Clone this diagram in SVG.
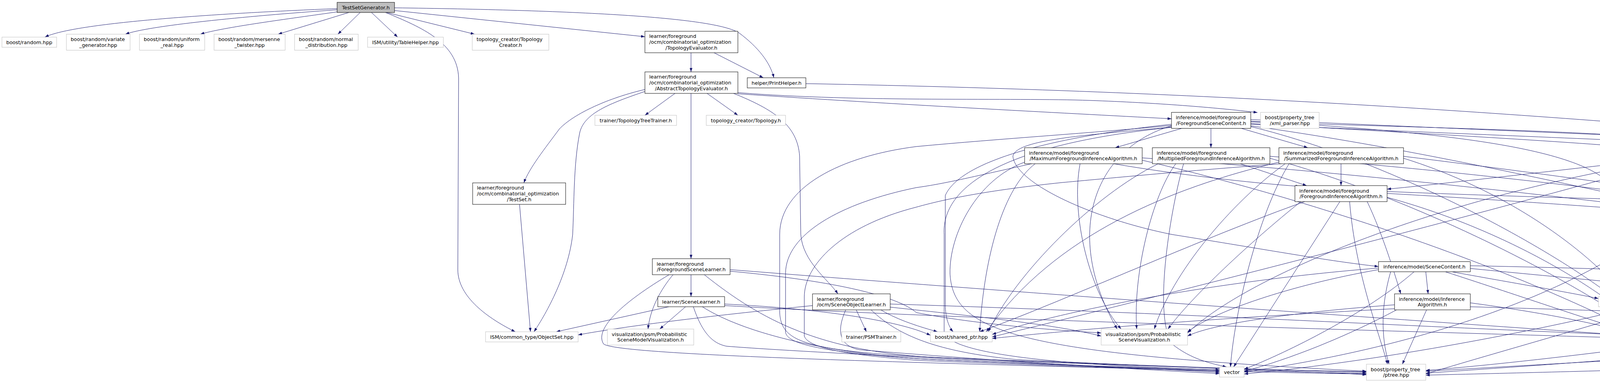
<svg xmlns="http://www.w3.org/2000/svg" width="7037" height="975" viewBox="0 0 7037 975">
<style>
.e{fill:none;stroke:#191970;stroke-width:1;marker-end:url(#a)}
.nb rect{fill:#fff;stroke:#000;stroke-width:1}
.ng rect{fill:#fff;stroke:#bfbfbf;stroke-width:1}
.nr rect{fill:#fff;stroke:#ff0000;stroke-width:1}
.root rect{fill:#bfbfbf;stroke:#000;stroke-width:1}
text{font-family:"DejaVu Sans","Liberation Sans",sans-serif;font-size:12.8px;fill:#000}
.c{text-anchor:middle}
</style>
<defs>
<marker id="a" markerUnits="userSpaceOnUse" markerWidth="10" markerHeight="7" refX="10" refY="3.5" orient="auto">
<path d="M0,0 L10,3.5 L0,7 z" fill="#191970"/>
</marker>
</defs>
<rect x="0" y="0" width="7037" height="975" fill="#fff"/>
<g id="edges">
<path class="e" d="M863,22 C560,34 190,58 115,95"/>
<path class="e" d="M863,25 C620,42 380,66 321,87.5"/>
<path class="e" d="M866,30 C740,48 570,70 513,87.5"/>
<path class="e" d="M893,32 L712,87.5"/>
<path class="e" d="M922,32 L865,87.5"/>
<path class="e" d="M951,32 L1018,95"/>
<path class="e" d="M990,32 L1215,87.5"/>
<path class="e" d="M1010,27 L1651,94"/>
<path class="e" d="M1010,20 C1450,26 1830,42 1893,85 C1940,120 1972,160 1981,199"/>
<path class="e" d="M987,32 C1080,70 1172,110 1174,200 L1172,690 C1172,760 1250,815 1319,849"/>
<path class="e" d="M1769,135 L1769,184"/>
<path class="e" d="M1828,135 L1954,199"/>
<path class="e" d="M1728,239 L1651,295"/>
<path class="e" d="M1810,239 L1889,295"/>
<path class="e" d="M1769,239 L1769,662"/>
<path class="e" d="M1651,229 C1560,250 1470,290 1432,330 C1395,380 1355,430 1341,468"/>
<path class="e" d="M1651,234 C1560,265 1495,290 1484,340 C1468,420 1470,520 1466,600 C1455,700 1400,800 1367,849"/>
<path class="e" d="M1878,239 C1980,280 2042,320 2047,400 L2050,600 C2055,670 2120,715 2145,752"/>
<path class="e" d="M1889,237 C2200,262 2600,250 2790,257 C2960,263 3110,275 3219,288"/>
<path class="e" d="M1889,240 C2300,268 2700,288 2999,304"/>
<path class="e" d="M2063,214 C3200,235 4000,300 4700,358 C5400,410 6300,470 6840,465 C7000,470 7030,560 7030,700 L7030,800 C7030,880 6900,915 6806,939"/>
<path class="e" d="M1330,523 L1358,849"/>
<path class="e" d="M1769,703 L1769,759"/>
<path class="e" d="M1723,703 C1692,740 1664,790 1659,842"/>
<path class="e" d="M1713,703 C1600,770 1520,840 1545,880 C1580,915 2700,935 3122,950"/>
<path class="e" d="M1803,703 C1950,820 2100,900 2400,915 C2900,935 3300,948 3498,953"/>
<path class="e" d="M1869,690 C2500,740 3600,820 4197,860"/>
<path class="e" d="M1869,694 C2150,720 2300,760 2346,800 C2500,830 2700,845 2819,852"/>
<path class="e" d="M1712,785 L1424,849"/>
<path class="e" d="M1755,785 L1689,842"/>
<path class="e" d="M1775,785 C1800,860 1830,880 1860,886 C2100,905 2800,935 3122,953"/>
<path class="e" d="M1798,785 C1900,850 2100,900 2346,918 C2800,940 3300,951 3498,956"/>
<path class="e" d="M1855,778 C2100,790 2300,820 2382,858"/>
<path class="e" d="M1855,782 C2500,820 3700,850 4197,866"/>
<path class="e" d="M2080,782 C1800,810 1600,835 1480,857"/>
<path class="e" d="M2192,793 L2218,849"/>
<path class="e" d="M2165,793 C2140,850 2150,885 2200,895 C2500,920 2900,945 3122,956"/>
<path class="e" d="M2255,793 C2300,820 2360,838 2400,849"/>
<path class="e" d="M2279,778 C3000,800 3800,845 4197,858"/>
<path class="e" d="M2279,786 C2500,810 2700,830 2819,860"/>
<path class="e" d="M2230,793 C2300,860 2400,900 2600,920 C3000,940 3400,952 3498,959"/>
<path class="e" d="M3027,328 L2855,378"/>
<path class="e" d="M3100,328 L3100,378"/>
<path class="e" d="M3176,328 L3348,378"/>
<path class="e" d="M3202,316 C3600,340 4000,360 4264,384"/>
<path class="e" d="M3202,322 C3900,420 4400,585 4717,585"/>
<path class="e" d="M2999,325 C2800,345 2600,355 2593,400 C2600,470 2800,560 3000,600 C3250,640 3400,668 3529,682"/>
<path class="e" d="M2999,318 C2700,350 2460,410 2420,500 L2420,780 C2420,815 2430,838 2440,849"/>
<path class="e" d="M2999,322 C2800,380 2720,600 2860,842"/>
<path class="e" d="M2999,326 C2560,370 2410,480 2417,600 L2417,850 C2430,905 2700,935 3122,946"/>
<path class="e" d="M2999,321 C2800,340 2560,355 2346,375 C2150,400 1996,480 1996,600 L1996,800 C2000,870 2050,895 2346,912 C2800,935 3300,948 3498,951"/>
<path class="e" d="M3202,324 C3600,420 4100,700 4230,849"/>
<path class="e" d="M3202,312 C3900,335 4500,340 4570,420 L4580,700 C4585,730 4588,745 4590,759"/>
<path class="e" d="M3202,310 C3700,338 4100,380 4140,500 C4160,600 4150,700 4140,759"/>
<path class="e" d="M3202,306 C4200,350 5200,390 6000,420 C6600,440 6950,480 6980,600 L6980,820 C6975,880 6870,915 6790,939"/>
<path class="e" d="M3202,318 C4500,380 6300,420 6531,600 L6531,800 C6520,900 6200,935 6031,950"/>
<path class="e" d="M2851,419 C3000,445 3200,468 3327,477"/>
<path class="e" d="M2924,404 C3600,450 4300,540 4717,592"/>
<path class="e" d="M2650,419 C2570,480 2520,650 2508,849"/>
<path class="e" d="M2765,419 C2740,550 2790,750 2870,842"/>
<path class="e" d="M2641,419 C2500,450 2420,470 2346,480 C2150,520 2011,600 2011,700 L2011,850 C2015,880 2100,900 2346,918 C2700,935 3000,945 3122,949"/>
<path class="e" d="M2924,410 C3400,520 3900,700 4197,855"/>
<path class="e" d="M2623,415 C2500,460 2430,600 2432,700 C2440,850 2600,905 3498,950"/>
<path class="e" d="M3175,419 L3345,475"/>
<path class="e" d="M3010,419 C2950,500 2900,700 2910,842"/>
<path class="e" d="M3030,419 C3000,520 2950,800 3000,880 C3050,920 3100,930 3140,939"/>
<path class="e" d="M2965,419 C2800,500 2600,700 2530,849"/>
<path class="e" d="M3251,405 C3600,500 4000,700 4210,849"/>
<path class="e" d="M3251,400 C3800,440 4400,520 4760,572"/>
<path class="e" d="M3433,419 L3433,475"/>
<path class="e" d="M3290,419 C3150,520 3000,700 2955,842"/>
<path class="e" d="M3300,419 C3220,550 3160,800 3150,939"/>
<path class="e" d="M3274,415 C3000,480 2700,600 2525,849"/>
<path class="e" d="M3280,419 C3000,440 2800,460 2720,467 C2500,490 2400,515 2346,530 C2150,580 2059,680 2059,760 L2059,860 C2070,895 2200,910 2346,922 C2900,945 3300,955 3498,957"/>
<path class="e" d="M3593,405 C3900,500 4150,700 4222,849"/>
<path class="e" d="M3593,400 C4000,450 4500,520 4780,572"/>
<path class="e" d="M4264,405 C3950,440 3700,470 3551,484"/>
<path class="e" d="M4264,410 C3700,500 3200,700 3040,852"/>
<path class="e" d="M4400,419 C4300,600 3900,850 3185,952"/>
<path class="e" d="M4405,419 C4350,600 4260,780 4240,849"/>
<path class="e" d="M4561,410 C4700,460 4790,500 4803,572"/>
<path class="e" d="M4264,415 C3600,600 2800,800 2540,862"/>
<path class="e" d="M4561,395 C5300,440 6400,500 6850,560 C6920,590 6930,640 6930,700 L6930,820 C6920,880 6850,915 6776,939"/>
<path class="e" d="M3500,516 C3540,600 3570,700 3586,752"/>
<path class="e" d="M3551,495 C4000,520 4500,560 4717,580"/>
<path class="e" d="M3340,516 C3100,600 2700,780 2508,849"/>
<path class="e" d="M3430,516 L3158,939"/>
<path class="e" d="M3551,505 C3900,600 4150,780 4212,849"/>
<path class="e" d="M3330,516 C3200,620 3050,760 2990,842"/>
<path class="e" d="M3455,516 C3470,700 3530,850 3552,932"/>
<path class="e" d="M3551,490 C4500,530 6100,540 6700,600 C6850,620 6878,700 6878,760 L6878,840 C6870,890 6820,920 6760,939"/>
<path class="e" d="M3650,695.5 L3656,752"/>
<path class="e" d="M3717,695.5 C3850,720 4000,745 4092,764"/>
<path class="e" d="M3764,687 C4100,720 4400,745 4551,768"/>
<path class="e" d="M3700,695.5 C3900,760 4100,830 4197,856"/>
<path class="e" d="M3560,695.5 C3530,800 3540,880 3556,932"/>
<path class="e" d="M3620,695.5 C3500,800 3300,900 3185,945"/>
<path class="e" d="M3529,686 C3100,720 2700,800 2540,856"/>
<path class="e" d="M3529,690 C3300,730 3100,800 3040,850"/>
<path class="e" d="M3764,680 C4800,700 6200,780 6700,939"/>
<path class="e" d="M3652,793 L3590,932"/>
<path class="e" d="M3764,775 C3950,800 4100,830 4197,859"/>
<path class="e" d="M3575,793 C3450,860 3300,920 3185,950"/>
<path class="e" d="M3570,780 C3300,800 3100,830 3040,860"/>
<path class="e" d="M3570,790 C3000,820 2700,850 2540,866"/>
<path class="e" d="M3764,785 C5000,820 6200,880 6594,952"/>
<path class="e" d="M4795,613 L4790,669.5"/>
<path class="e" d="M4900,613 L5095,662"/>
<path class="e" d="M4920,598 C5600,640 6100,700 6283,752"/>
<path class="e" d="M4760,613 C4600,700 4350,800 4256,858"/>
<path class="e" d="M4740,613 C4600,700 3800,900 3185,957"/>
<path class="e" d="M4725,613 C4500,720 3900,880 3650,957"/>
<path class="e" d="M4920,605 C5800,650 6500,750 6740,939"/>
<path class="e" d="M4830,613 C4850,750 4950,880 5088,952"/>
<path class="e" d="M4920,602 C5600,620 6400,560 6475,600 L6475,780 C6470,880 6200,930 6031,945"/>
<path class="e" d="M5145,703 L5063,752"/>
<path class="e" d="M5215,703 L5290,752"/>
<path class="e" d="M5295,695 C5450,720 5520,740 5540,759"/>
<path class="e" d="M5295,690 C5550,720 5700,740 5767,760"/>
<path class="e" d="M5063,695 C4900,760 4920,850 5068,862"/>
<path class="e" d="M5295,700 C5500,760 5600,800 5640,849"/>
<path class="e" d="M5100,703 C4980,800 5000,900 5092,939"/>
<path class="e" d="M5295,698 C6000,760 6500,850 6700,939"/>
<path class="e" d="M5295,692 C5700,720 6000,760 6060,849"/>
<path class="e" d="M5295,703 C5500,800 5700,880 5830,932"/>
<path class="e" d="M5295,685 C5700,700 6000,730 6184,762"/>
<path class="e" d="M5030,793 L5105,842"/>
<path class="e" d="M5025,793 C5030,880 5080,920 5120,939"/>
<path class="e" d="M5149,782 C5350,800 5500,830 5599,858"/>
<path class="e" d="M5149,790 C5500,830 5800,850 5994,860"/>
<path class="e" d="M5120,793 C5300,880 6000,930 6594,950"/>
<path class="e" d="M5095,793 C5300,880 5600,920 5780,945"/>
<path class="e" d="M4902,780 C4600,800 4400,830 4256,860"/>
<path class="e" d="M4902,790 C4500,850 4000,920 3650,948"/>
<path class="e" d="M5275,793 L5205,842"/>
<path class="e" d="M5305,793 C5290,870 5250,920 5230,939"/>
<path class="e" d="M5390,793 C5500,820 5580,840 5620,849"/>
<path class="e" d="M5440,793 C5600,880 6200,930 6594,955"/>
<path class="e" d="M5410,793 C5550,870 5700,920 5780,938"/>
<path class="e" d="M5172,790 C4800,820 4500,845 4256,866"/>
<path class="e" d="M5250,793 C4800,880 4000,930 3650,955"/>
<path class="e" d="M5492,785 C5750,810 5900,840 5994,856"/>
<path class="e" d="M5767,780 C5500,800 5350,830 5270,850"/>
<path class="e" d="M5838,793 L5720,849"/>
<path class="e" d="M5910,793 L6045,849"/>
<path class="e" d="M5790,793 C5600,880 5400,920 5251,950"/>
<path class="e" d="M5847,793 L5840,932"/>
<path class="e" d="M5870,793 C5900,880 6300,930 6594,947"/>
<path class="e" d="M5767,788 C5200,820 4600,850 4256,870"/>
<path class="e" d="M5170,883 L5170,939"/>
<path class="e" d="M5270,868 C5800,900 6300,930 6594,945"/>
<path class="e" d="M5270,876 C5500,900 5700,920 5780,942"/>
<path class="e" d="M5068,875 C4500,900 4000,930 3650,950"/>
<path class="e" d="M6235,793 L6095,849"/>
<path class="e" d="M6335,793 L6675,939"/>
<path class="e" d="M6250,793 C6200,870 6100,920 6031,940"/>
<path class="e" d="M6265,793 C6240,880 5800,910 5251,955"/>
<path class="e" d="M6184,780 C5500,800 4800,830 4256,862"/>
<path class="e" d="M6275,793 C6000,900 4500,940 3650,960"/>
</g>
<g id="n1" class="root"><rect x="863" y="6" width="147" height="26"/><text class="c" x="936.5" y="23.5">TestSetGenerator.h</text></g>
<g id="n2" class="ng"><rect x="5" y="95" width="140" height="26"/><text class="c" x="75" y="112.5">boost/random.hpp</text></g>
<g id="n3" class="ng"><rect x="170" y="87.5" width="163" height="41"/><text x="181" y="105.2">boost/random/variate</text><text class="c" x="251.5" y="119.9">_generator.hpp</text></g>
<g id="n4" class="ng"><rect x="357" y="87.5" width="167" height="41"/><text x="368" y="105.2">boost/random/uniform</text><text class="c" x="440.5" y="119.9">_real.hpp</text></g>
<g id="n5" class="ng"><rect x="548" y="87.5" width="182" height="41"/><text x="559" y="105.2">boost/random/mersenne</text><text class="c" x="639" y="119.9">_twister.hpp</text></g>
<g id="n6" class="ng"><rect x="754" y="87.5" width="163" height="41"/><text x="765" y="105.2">boost/random/normal</text><text class="c" x="835.5" y="119.9">_distribution.hpp</text></g>
<g id="n7" class="ng"><rect x="941" y="95" width="194" height="26"/><text class="c" x="1038" y="112.5">ISM/utility/TableHelper.hpp</text></g>
<g id="n8" class="ng"><rect x="1209" y="87.5" width="196" height="41"/><text x="1220" y="105.2">topology_creator/Topology</text><text class="c" x="1307" y="119.9">Creator.h</text></g>
<g id="n9" class="nb"><rect x="1651" y="80" width="238" height="55"/><text x="1662" y="97.3">learner/foreground</text><text x="1662" y="112">/ocm/combinatorial_optimization</text><text class="c" x="1770" y="126.7">/TopologyEvaluator.h</text></g>
<g id="n10" class="nb"><rect x="1651" y="184" width="238" height="55"/><text x="1662" y="201.3">learner/foreground</text><text x="1662" y="216">/ocm/combinatorial_optimization</text><text class="c" x="1770" y="230.7">/AbstractTopologyEvaluator.h</text></g>
<g id="n11" class="nb"><rect x="1913" y="199" width="150" height="26"/><text class="c" x="1988" y="216.5">helper/PrintHelper.h</text></g>
<g id="n12" class="ng"><rect x="1523" y="295" width="209" height="26"/><text class="c" x="1627.5" y="312.5">trainer/TopologyTreeTrainer.h</text></g>
<g id="n13" class="ng"><rect x="1808" y="295" width="203" height="26"/><text class="c" x="1909.5" y="312.5">topology_creator/Topology.h</text></g>
<g id="n14" class="nb"><rect x="2999" y="287.5" width="203" height="41"/><text x="3010" y="305.2">inference/model/foreground</text><text class="c" x="3100.5" y="319.9">/ForegroundSceneContent.h</text></g>
<g id="n15" class="ng"><rect x="3227" y="287.5" width="150" height="41"/><text x="3238" y="305.2">boost/property_tree</text><text class="c" x="3302" y="319.9">/xml_parser.hpp</text></g>
<g id="n16" class="nb"><rect x="2623" y="378" width="301" height="41"/><text x="2634" y="395.7">inference/model/foreground</text><text class="c" x="2773.5" y="410.4">/MaximumForegroundInferenceAlgorithm.h</text></g>
<g id="n17" class="nb"><rect x="2950" y="378" width="301" height="41"/><text x="2961" y="395.7">inference/model/foreground</text><text class="c" x="3100.5" y="410.4">/MultipliedForegroundInferenceAlgorithm.h</text></g>
<g id="n18" class="nb"><rect x="3274" y="378" width="319" height="41"/><text x="3285" y="395.7">inference/model/foreground</text><text class="c" x="3433.5" y="410.4">/SummarizedForegroundInferenceAlgorithm.h</text></g>
<g id="n19" class="nb"><rect x="4264" y="378" width="297" height="41"/><text x="4275" y="395.7">inference/model/foreground</text><text class="c" x="4412.5" y="410.4">/PowerSetForegroundInferenceAlgorithm.h</text></g>
<g id="n20" class="nb"><rect x="3315" y="475" width="236" height="41"/><text x="3326" y="492.7">inference/model/foreground</text><text class="c" x="3433" y="507.4">/ForegroundInferenceAlgorithm.h</text></g>
<g id="n21" class="nb"><rect x="1210" y="468" width="238" height="55"/><text x="1221" y="485.3">learner/foreground</text><text x="1221" y="500">/ocm/combinatorial_optimization</text><text class="c" x="1329" y="514.7">/TestSet.h</text></g>
<g id="n22" class="nb"><rect x="4717" y="572" width="203" height="41"/><text x="4728" y="589.7">inference/model/foreground</text><text class="c" x="4818.5" y="604.4">/SceneObjectDescription.h</text></g>
<g id="n23" class="nb"><rect x="1670" y="662" width="199" height="41"/><text x="1681" y="679.7">learner/foreground</text><text class="c" x="1769.5" y="694.4">/ForegroundSceneLearner.h</text></g>
<g id="n24" class="nb"><rect x="3529" y="669.5" width="235" height="26"/><text class="c" x="3646.5" y="687">inference/model/SceneContent.h</text></g>
<g id="n25" class="ng"><rect x="4752" y="669.5" width="66" height="26"/><text class="c" x="4785" y="687">chrono</text></g>
<g id="n26" class="nb"><rect x="5063" y="662" width="232" height="41"/><text x="5074" y="679.7">inference/model/foreground</text><text class="c" x="5179" y="694.4">/ocm/OcmSceneObjectContent.h</text></g>
<g id="n27" class="nb"><rect x="1684" y="759" width="171" height="26"/><text class="c" x="1769.5" y="776.5">learner/SceneLearner.h</text></g>
<g id="n28" class="nb"><rect x="2080" y="752" width="199" height="41"/><text x="2091" y="769.7">learner/foreground</text><text class="c" x="2179.5" y="784.4">/ocm/SceneObjectLearner.h</text></g>
<g id="n29" class="nb"><rect x="3570" y="752" width="194" height="41"/><text x="3581" y="769.7">inference/model/Inference</text><text class="c" x="3667" y="784.4">Algorithm.h</text></g>
<g id="n30" class="ng"><rect x="4092" y="759" width="80" height="26"/><text class="c" x="4132" y="776.5">iostream</text></g>
<g id="n31" class="ng"><rect x="4551" y="759" width="74" height="26"/><text class="c" x="4588" y="776.5">fstream</text></g>
<g id="n32" class="nr"><rect x="4902" y="752" width="247" height="41"/><text x="4913" y="769.7">inference/model/foreground</text><text class="c" x="5025.5" y="784.4">/ocm/shape/ShapeTermEvaluator.h</text></g>
<g id="n33" class="nr"><rect x="5172" y="752" width="320" height="41"/><text x="5183" y="769.7">inference/model/foreground</text><text class="c" x="5332" y="784.4">/ocm/appearance/AppearanceTermEvaluator.h</text></g>
<g id="n34" class="ng"><rect x="5515" y="759" width="76" height="26"/><text class="c" x="5553" y="776.5">sstream</text></g>
<g id="n35" class="nr"><rect x="5767" y="752" width="291" height="41"/><text x="5778" y="769.7">inference/model/foreground</text><text class="c" x="5912.5" y="784.4">/ocm/occlusion/OcclusionTermEvaluator.h</text></g>
<g id="n36" class="nb"><rect x="6184" y="752" width="202" height="41"/><text x="6195" y="769.7">inference/model/foreground</text><text class="c" x="6285" y="784.4">/SceneObjectContent.h</text></g>
<g id="n37" class="ng"><rect x="1243" y="849" width="237" height="26"/><text class="c" x="1361.5" y="866.5">ISM/common_type/ObjectSet.hpp</text></g>
<g id="n38" class="ng"><rect x="1555" y="842" width="221" height="41"/><text x="1566" y="859.7">visualization/psm/Probabilistic</text><text class="c" x="1665.5" y="874.4">SceneModelVisualization.h</text></g>
<g id="n39" class="ng"><rect x="2155" y="849" width="151" height="26"/><text class="c" x="2230.5" y="866.5">trainer/PSMTrainer.h</text></g>
<g id="n40" class="ng"><rect x="2382" y="849" width="158" height="26"/><text class="c" x="2461" y="866.5">boost/shared_ptr.hpp</text></g>
<g id="n41" class="ng"><rect x="2819" y="842" width="221" height="41"/><text x="2830" y="859.7">visualization/psm/Probabilistic</text><text class="c" x="2929.5" y="874.4">SceneVisualization.h</text></g>
<g id="n42" class="ng"><rect x="4197" y="849" width="59" height="26"/><text class="c" x="4226.5" y="866.5">string</text></g>
<g id="n43" class="nb"><rect x="5068" y="842" width="202" height="41"/><text x="5079" y="859.7">inference/model/foreground</text><text class="c" x="5169" y="874.4">/ocm/TermEvaluator.h</text></g>
<g id="n44" class="ng"><rect x="5599" y="849" width="167" height="26"/><text class="c" x="5682.5" y="866.5">boost/lexical_cast.hpp</text></g>
<g id="n45" class="ng"><rect x="5994" y="849" width="139" height="26"/><text class="c" x="6063.5" y="866.5">boost/foreach.hpp</text></g>
<g id="n46" class="ng"><rect x="3122" y="939" width="63" height="26"/><text class="c" x="3153.5" y="956.5">vector</text></g>
<g id="n47" class="ng"><rect x="3498" y="932" width="152" height="41"/><text x="3509" y="949.7">boost/property_tree</text><text class="c" x="3574" y="964.4">/ptree.hpp</text></g>
<g id="n48" class="ng"><rect x="5088" y="939" width="163" height="26"/><text class="c" x="5169.5" y="956.5">asr_msgs/AsrObject.h</text></g>
<g id="n49" class="ng"><rect x="5780" y="932" width="251" height="41"/><text x="5791" y="949.7">visualization/psm/Probabilistic</text><text class="c" x="5905.5" y="964.4">PrimarySceneObjectVisualization.h</text></g>
<g id="n50" class="ng"><rect x="6594" y="939" width="216" height="26"/><text class="c" x="6702" y="956.5">ISM/common_type/Object.hpp</text></g>
</svg>
